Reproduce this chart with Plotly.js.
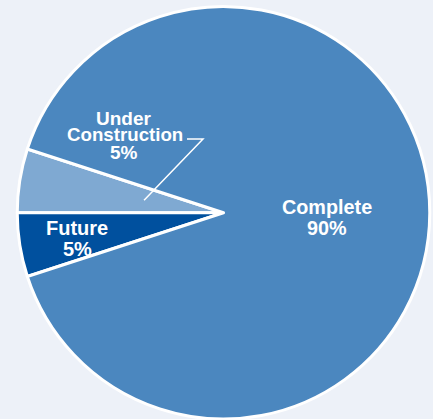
<!DOCTYPE html>
<html>
<head>
<meta charset="utf-8">
<script src="https://cdn.plot.ly/plotly-3.0.1.min.js"></script>
<style>
html,body{margin:0;padding:0;background:#edf1f8;overflow:hidden;}
#chart{width:433px;height:419px;}
</style>
</head>
<body>
<div id="chart"></div>
<script>
// Data
const categories = ["Under Construction", "Future", "Complete"];
const values = [5, 5, 90];
const colors = ["#7fa9d2", "#00509e", "#4b87bf"];

const W = 433, H = 419;
const cx = 223.5, cy = 212.75, R = 206.25;
const rotation = -90;
const px = x => x / W;
const py = y => 1 - y / H;

function ann(text, x, y, size) {
  return {text: text, x: px(x), y: py(y), xref: "paper", yref: "paper",
          xanchor: "center", yanchor: "middle", showarrow: false,
          font: {family: "Liberation Sans, Arial, sans-serif", size: size, color: "#ffffff", weight: "bold"}};
}

const annotations = [
  ann("Under", 124, 118, 19),
  ann("Construction", 124.5, 135, 18.7),
  ann(values[0] + "%", 124, 152.5, 19),
  ann(categories[2], 327, 207, 19.8),
  ann(values[2] + "%", 327, 227.5, 19.8),
  ann(categories[1], 77, 227.5, 20),
  ann(values[1] + "%", 77, 248.5, 20)
];

// leader line anchor from the mid-angle of the Under Construction slice
const total = values.reduce((a, b) => a + b, 0);
const firstDeg = values[0] / total * 360;
const startDeg = 90 - rotation - firstDeg;
const midDeg = startDeg + firstDeg / 2;
const ax = cx + 0.39 * R * Math.cos(midDeg * Math.PI / 180);
const ay = cy - 0.39 * R * Math.sin(midDeg * Math.PI / 180);

const shapes = [{
  type: "path", xref: "paper", yref: "paper",
  path: `M ${px(187)} ${py(139)} L ${px(203)} ${py(139)} L ${px(ax)} ${py(ay)}`,
  line: {color: "#ffffff", width: 1.5}
}];

const trace = {
  type: "pie",
  labels: categories,
  values: values,
  sort: false,
  direction: "counterclockwise",
  rotation: rotation,
  textinfo: "none",
  hoverinfo: "label+percent",
  marker: {colors: colors, line: {color: "#ffffff", width: 3}},
  domain: {x: [(cx - R) / W, (cx + R) / W], y: [0, 2 * R / H]}
};

Plotly.newPlot("chart", [trace], {
  width: W, height: H,
  margin: {l: 0, r: 0, t: 0, b: 0},
  paper_bgcolor: "#edf1f8",
  showlegend: false,
  annotations: annotations,
  shapes: shapes
}, {displayModeBar: false, staticPlot: true});
</script>
</body>
</html>
